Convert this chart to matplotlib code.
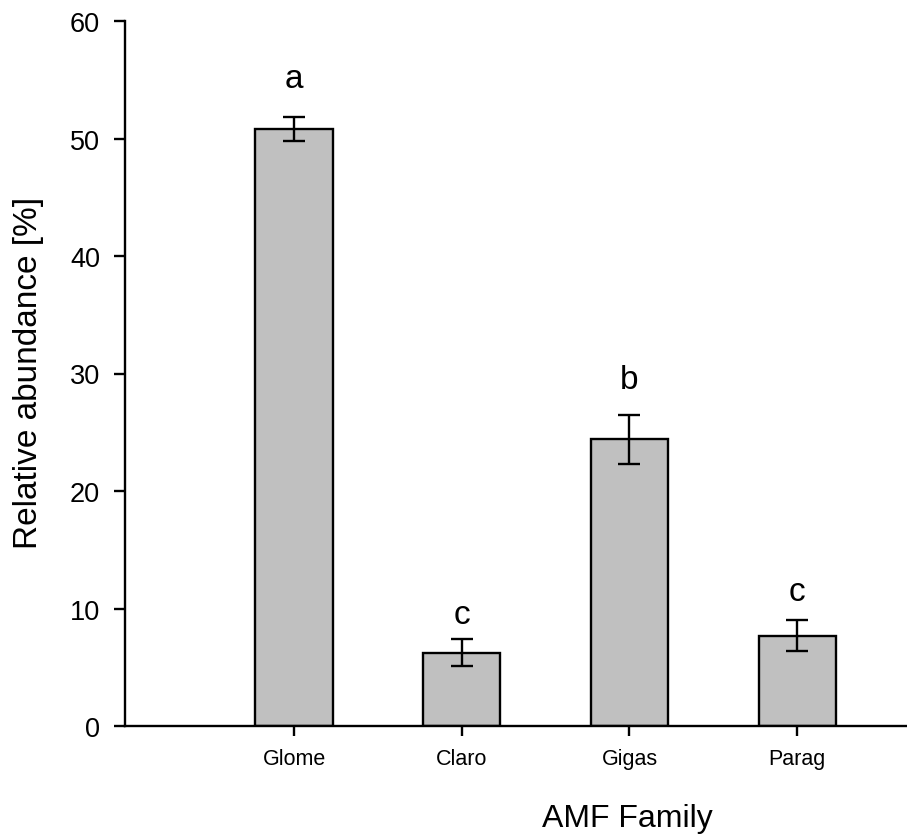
"""
Relative abundance of AMF families, bar chart with error bars and letters
"""

import matplotlib
matplotlib.use("Agg")
import matplotlib.pyplot as plt
import numpy as np

families = ['Glome', 'Claro', 'Gigas', 'Parag']
abundance = [50.8, 6.25, 24.4, 7.7]
std_err = [1.05, 1.15, 2.07, 1.3]
letters = ['a', 'c', 'b', 'c']
letter_y = [54.4, 8.8, 28.8, 10.7]

plt.rcParams['font.family'] = ['Liberation Sans', 'DejaVu Sans']

fig = plt.figure(figsize=(9.07, 8.37), dpi=100)
ax = fig.add_axes([125 / 907, 1 - 727 / 837, 782 / 907, 705 / 837])

lw = 1.7
x = np.arange(len(families))
ax.bar(x, abundance, width=0.46, color='#c0c0c0', edgecolor='black', linewidth=lw, zorder=2)
ax.errorbar(x, abundance, yerr=std_err, fmt='none', ecolor='black',
            elinewidth=lw, capsize=8, capthick=lw, zorder=3)

for xi, lab, ly in zip(x, letters, letter_y):
    ax.text(xi, ly, lab, ha='center', va='baseline', fontsize=24)

ax.set_xlim(-1.008, 3.655)
ax.set_ylim(0, 60)
ax.set_yticks([0, 10, 20, 30, 40, 50, 60])
ax.set_xticks(x)
ax.set_xticklabels(families, fontsize=15.5)
ax.tick_params(axis='y', labelsize=19.5, length=8, width=lw, pad=10)
ax.tick_params(axis='x', length=7, width=lw, pad=9)

for s in ['top', 'right']:
    ax.spines[s].set_visible(False)
for s in ['left', 'bottom']:
    ax.spines[s].set_linewidth(lw)

ax.set_ylabel('Relative abundance [%]', fontsize=24)
ax.yaxis.set_label_coords(-0.103, 0.502)
ax.set_xlabel('AMF Family', fontsize=23)
ax.xaxis.set_label_coords(0.643, -0.109)

fig.savefig('out.png', dpi=100)
